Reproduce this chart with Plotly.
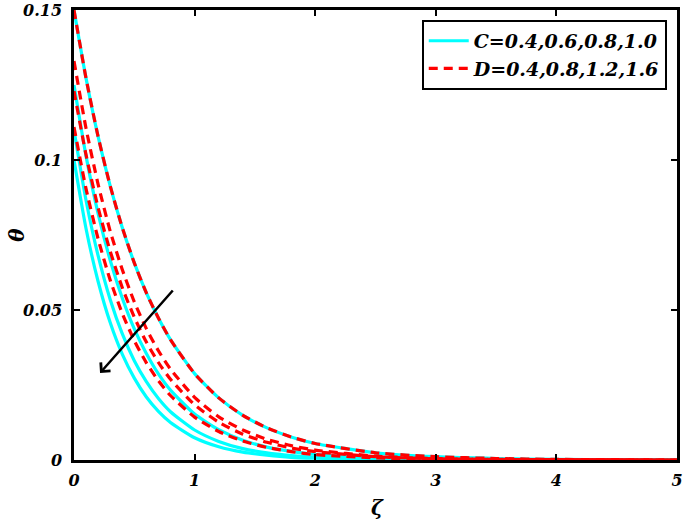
import plotly.graph_objects as go

# ---- data ----
zeta = [0, 0.1, 0.2, 0.3, 0.4, 0.5, 0.6, 0.7, 0.8, 1.0, 1.2, 1.4, 1.6, 1.8,
        2.0, 2.5, 3.0, 3.5, 4.0, 4.5, 5.0]

# shared curve C=0.4 / D=0.4
theta_base = [0.150, 0.1272, 0.1078, 0.0914, 0.0775, 0.0657, 0.0557, 0.0473, 0.0401,
              0.0288, 0.0207, 0.0149, 0.0107, 0.0077, 0.0055, 0.0024, 0.0011,
              0.0005, 0.0002, 0.0001, 0.0]

# C variation
theta_C06 = [0.125, 0.1013, 0.0821, 0.0666, 0.0540, 0.0437, 0.0355, 0.0287, 0.0233,
             0.0153, 0.0101, 0.0066, 0.0043, 0.0029, 0.0019, 0.0007, 0.0002,
             0.0001, 0.00003, 0.00001, 0.0]
theta_C08 = [0.110, 0.0865, 0.0681, 0.0535, 0.0421, 0.0331, 0.0261, 0.0205, 0.0161,
             0.0100, 0.0062, 0.0038, 0.0024, 0.0015, 0.0009, 0.0003, 0.0001,
             0.00002, 0.0, 0.0, 0.0]
theta_C10 = [0.100, 0.0771, 0.0595, 0.0458, 0.0353, 0.0273, 0.0210, 0.0162, 0.0125,
             0.0074, 0.0044, 0.0026, 0.0016, 0.0009, 0.0006, 0.00015, 0.00004,
             0.0, 0.0, 0.0, 0.0]

# D variation
theta_D08 = [0.133, 0.1105, 0.0919, 0.0763, 0.0635, 0.0527, 0.0438, 0.0364, 0.0303,
             0.0209, 0.0144, 0.0100, 0.0069, 0.0048, 0.0033, 0.0013, 0.0005,
             0.0002, 0.0001, 0.00003, 0.0]
theta_D12 = [0.123, 0.1017, 0.0841, 0.0696, 0.0575, 0.0476, 0.0393, 0.0325, 0.0269,
             0.0184, 0.0126, 0.0086, 0.0059, 0.0040, 0.0028, 0.0011, 0.0004,
             0.0002, 0.0001, 0.00002, 0.0]
theta_D16 = [0.111, 0.0904, 0.0737, 0.0600, 0.0489, 0.0398, 0.0324, 0.0264, 0.0215,
             0.0143, 0.0095, 0.0063, 0.0042, 0.0028, 0.0018, 0.0007, 0.0002,
             0.0001, 0.00003, 0.00001, 0.0]

C_curves = [theta_base, theta_C06, theta_C08, theta_C10]
D_curves = [theta_base, theta_D08, theta_D12, theta_D16]

C_label = "C=0.4,0.6,0.8,1.0"
D_label = "D=0.4,0.8,1.2,1.6"

x_ticks = [0, 1, 2, 3, 4, 5]
y_ticks = [0, 0.05, 0.1, 0.15]
y_ticklabels = ["0", "0.05", "0.1", "0.15"]

# ---- figure ----
fig = go.Figure()
FONT = "DejaVu Serif"

for i, ys in enumerate(C_curves):
    fig.add_trace(go.Scatter(
        x=zeta, y=ys, mode="lines", name=C_label,
        line=dict(color="#00FFFF", width=3.2, shape="spline", smoothing=0.6),
        showlegend=(i == 0), legendgroup="C"))

for i, ys in enumerate(D_curves):
    fig.add_trace(go.Scatter(
        x=zeta, y=ys, mode="lines", name=D_label,
        line=dict(color="#FF0000", width=3.2, dash="9px,6px", shape="spline", smoothing=0.6),
        showlegend=(i == 0), legendgroup="D"))

tickfont = dict(family=FONT, size=16, color="black", weight="bold", style="italic")
axis_common = dict(
    showline=True, linecolor="black", linewidth=2.5, mirror="ticks",
    ticks="inside", ticklen=6, tickwidth=2, tickcolor="black",
    showgrid=False, zeroline=False, automargin=False, tickfont=tickfont,
)

fig.update_xaxes(range=[0, 5], tickvals=x_ticks, ticktext=[str(v) for v in x_ticks],
                 ticklabelstandoff=4, **axis_common)
fig.update_yaxes(range=[0, 0.15], tickvals=y_ticks, ticktext=y_ticklabels,
                 ticklabelstandoff=6, **axis_common)

title_font = dict(family=FONT, size=20, color="black", weight="bold", style="italic")
fig.add_annotation(text="ζ", x=0.504, y=-0.107, xref="paper", yref="paper",
                   showarrow=False, font=title_font, xanchor="center", yanchor="middle")
fig.add_annotation(text="θ", x=-0.095, y=0.5, xref="paper", yref="paper",
                   showarrow=False, font=title_font, textangle=-90,
                   xanchor="center", yanchor="middle")

fig.add_annotation(x=0.216, y=0.029, ax=0.83, ay=0.057, xref="x", yref="y",
                   axref="x", ayref="y", text="", showarrow=True,
                   arrowhead=4, arrowsize=1.0, arrowwidth=2.5, arrowcolor="black")

fig.update_layout(
    width=685, height=520,
    margin=dict(l=74, r=8, t=10, b=60),
    plot_bgcolor="white", paper_bgcolor="white",
    legend=dict(x=0.983, y=0.978, xanchor="right", yanchor="top",
                bordercolor="black", borderwidth=2, bgcolor="white",
                font=dict(family=FONT, size=19, color="black", weight="bold", style="italic"),
                tracegroupgap=0, itemwidth=40),
)

# remove the browser's default 8px body margin so the figure fills the window
fig.write_html("out.html", config={"displayModeBar": False},
               post_script="document.body.style.margin='0px';")
